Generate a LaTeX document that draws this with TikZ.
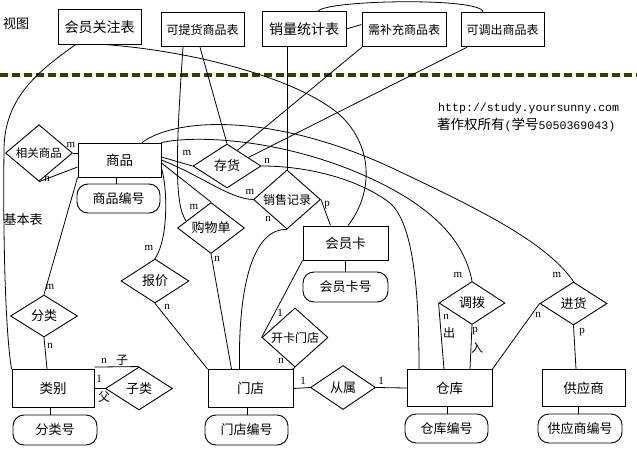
\documentclass[tikz,border=0pt]{standalone}
\usepackage{fontspec}
\newfontfamily\cjk{Noto Sans CJK SC}
\newfontfamily\mono{Liberation Mono}
\newfontfamily\lserif{Liberation Serif}
\usetikzlibrary{shapes.geometric,calc}
\definecolor{olivedash}{RGB}{60,60,0}
\tikzset{
 ent/.style={draw, line width=0.9pt, minimum width=84pt, minimum height=37pt, inner sep=0pt, font=\cjk\fontsize{13.5}{14}\selectfont},
 vbox/.style={draw, line width=0.9pt, minimum width=83pt, minimum height=34.5pt, inner sep=0pt, font=\cjk\fontsize{12}{13}\selectfont},
 attr/.style={draw, rounded corners=11pt, line width=0.9pt, minimum width=84pt, minimum height=30pt, inner sep=0pt, font=\cjk\fontsize{13}{14}\selectfont},
 rel/.style={diamond, draw, line width=0.9pt, minimum width=67pt, minimum height=43pt, inner sep=0pt, font=\cjk\fontsize{13}{14}\selectfont},
 lbl/.style={font=\lserif\fontsize{11}{11}\selectfont, inner sep=0pt},
 clbl/.style={font=\cjk\fontsize{12}{12}\selectfont, inner sep=0pt},
 conn/.style={line width=0.8pt},
 plain/.style={font=\cjk\fontsize{13}{13}\selectfont, inner sep=0pt},
}
\begin{document}
\begin{tikzpicture}[x=1pt,y=-1pt]
\useasboundingbox (0,0) rectangle (637,450);
\fill[white] (0,0) rectangle (637,450);
% separator
\draw[line width=4pt, color=olivedash, dash pattern=on 8pt off 4pt] (0,75) -- (637,75);
% texts
\node[plain] (vt) at (16,24) {视图};
\node[plain] (jbb) at (23,220) {基本表};
\node[font=\mono\fontsize{11.6}{12}\selectfont, anchor=west, inner sep=0pt] (url) at (438,108) {http://study.yoursunny.com};
\node[font=\cjk\fontsize{13.5}{14}\selectfont, anchor=west, inner sep=0pt] (cr) at (437,125) {著作权所有{\mono\fontsize{11.6}{12}\selectfont(}学号{\mono\fontsize{11.6}{12}\selectfont 5050369043)}};
% view boxes
\node[vbox, font=\cjk\fontsize{14}{14}\selectfont] (gz) at (99.5,27) {会员关注表};
\node[vbox] (ktp) at (202.5,29.5) {可提货商品表};
\node[vbox, minimum width=84pt, font=\cjk\fontsize{14}{14}\selectfont] (xl) at (304,29) {销量统计表};
\node[vbox, minimum width=84pt] (xb) at (404,29.5) {需补充商品表};
\node[vbox] (kd) at (502.5,29.5) {可调出商品表};
% entities
\node[ent, minimum width=83pt, minimum height=34pt] (sp) at (119.5,160) {商品};
\node[attr, minimum width=83pt, minimum height=29pt] (spbh) at (118.5,198.5) {商品编号};
\node[ent, minimum width=85pt, minimum height=34pt] (hyk) at (345.5,243) {会员卡};
\node[attr, minimum width=85pt] (hykh) at (345.5,287) {会员卡号};
\node[ent, minimum width=82pt, minimum height=38pt] (lb) at (53,388.5) {类别};
\node[attr] (flh) at (55,430) {分类号};
\node[ent, minimum width=85pt, minimum height=38pt] (md) at (250.5,388.5) {门店};
\node[attr, minimum width=83pt] (mdbh) at (246.5,430) {门店编号};
\node[ent, minimum width=85pt] (ck) at (449.5,388) {仓库};
\node[attr, minimum width=83pt, minimum height=29pt] (ckbh) at (446.5,428.5) {仓库编号};
\node[ent, minimum width=83pt] (gys) at (583.5,388) {供应商};
\node[attr, minimum height=29pt] (gysbh) at (580,428.5) {供应商编号};
% relations
\node[rel, minimum height=44pt, font=\cjk\fontsize{11.5}{12}\selectfont] (xg) at (39,153) {相关商品};
\node[rel, minimum width=68pt, minimum height=44pt] (ch) at (227,166) {存货};
\node[rel, minimum height=42pt, font=\cjk\fontsize{12}{12}\selectfont] (xs) at (287,199.5) {销售记录};
\node[rel, minimum height=42pt] (gwd) at (211,228) {购物单};
\node[rel, minimum width=68pt, minimum height=44pt] (bj) at (155,281) {报价};
\node[rel, minimum width=66pt, minimum height=45pt, font=\cjk\fontsize{12}{12}\selectfont] (kk) at (295,337.5) {开卡门店};
\node[rel, minimum height=42pt] (fl) at (44,316) {分类};
\node[rel] (zl) at (139,388.5) {子类};
\node[rel, minimum width=65pt, minimum height=44pt] (cs) at (343,387.5) {从属};
\node[rel, minimum width=66pt] (db) at (472,303) {调拨};
\node[rel] (jh) at (573.5,303.5) {进货};
% view connectors
\draw[conn] ([xshift=-24]gz.south) .. controls (40,70) and (4,97) .. (4,150) .. controls (3,230) and (5,330) .. (lb.north west);
\draw[conn] ([xshift=7.5]gz.south) .. controls (200,52) and (300,80) .. (340,115) .. controls (375,148) and (372,195) .. ([xshift=2.5]hyk.north);
\draw[conn] ([xshift=-19.5]ktp.south) .. controls (176,150) and (174,205) .. ($(gwd.west)!0.27!(gwd.north)$);
\draw[conn] ([xshift=-2.5]ktp.south) -- (ch.north);
\draw[conn] (xl.south -| xs.north) -- (xs.north);
\draw[conn] ([xshift=14]xl.north) .. controls (325,0) and (480,-3) .. ([xshift=-19.5]kd.north);
\draw[conn] (xl.east) -- ([yshift=5]xb.west);
\draw[conn] ([xshift=-42]xb.south) -- ($(ch.north)!0.3!(ch.east)$);
\draw[conn] ([xshift=-35.5]kd.south) -- ($(ch.north)!0.62!(ch.east)$);
% base connectors
\draw[conn] ([yshift=3]sp.east) -- (ch.west);
\draw[conn] (sp.east) .. controls (200,175) and (230,199) .. (xs.west);
\draw[conn] ([yshift=-3]sp.east) -- (gwd.north);
\draw[conn] ([yshift=-8]sp.east) .. controls (168,190) and (168,240) .. (bj.north);
\draw[conn] (sp.south west) -- (fl.north);
\draw[conn] (fl.south) -- ([xshift=-6]lb.north);
\draw[conn] (xg.east) -- ([yshift=7]sp.west);
\draw[conn] (xg.south) -- ([yshift=-7]sp.west);
\draw[conn] (ch.east) .. controls (310,166) and (360,180) .. (390,203) .. controls (415,225) and (419,300) .. ([xshift=-30.5]ck.north);
\draw[conn] ([xshift=22.5]sp.north) .. controls (175,118) and (270,112) .. (390,167) .. controls (470,205) and (545,240) .. (jh.north);
\draw[conn] (sp.north east) .. controls (200,134) and (300,140) .. (390,188) .. controls (440,215) and (465,245) .. (db.north);
\draw[conn] (xs.south) .. controls (255,228) and (238,280) .. ([xshift=-11]md.north);
\draw[conn] (xs.east) -- ([xshift=-15]hyk.north);
\draw[conn] (gwd.south) -- ([xshift=-19]md.north);
\draw[conn] (bj.south) -- (md.north west);
\draw[conn] (hyk.south west) -- (kk.west);
\draw[conn] (kk.south) -- ([xshift=-1]md.north east);
\draw[conn] (md.east) -- (cs.west);
\draw[conn] (cs.east) -- (ck.west);
\draw[conn] ([yshift=2]lb.north east) -- (zl.north);
\draw[conn] (lb.east) -- (zl.west);
\draw[conn] (db.west) -- ([xshift=-5.5]ck.north);
\draw[conn] (db.south) -- ([xshift=20.5]ck.north);
\draw[conn] (jh.west) -- (ck.north east);
\draw[conn] (jh.south) -- ([xshift=-7.5]gys.north);
% attribute links
\draw[conn] ([xshift=-3]sp.south) -- ([xshift=-3]sp.south |- spbh.north);
\draw[conn] (hyk.south) -- (hyk.south |- hykh.north);
\draw[conn] ([xshift=-3]lb.south) -- ([xshift=-3]lb.south |- flh.north);
\draw[conn] ([xshift=-3.5]md.south) -- ([xshift=-3.5]md.south |- mdbh.north);
\draw[conn] ([xshift=-2.5]ck.south) -- ([xshift=-2.5]ck.south |- ckbh.north);
\draw[conn] ([xshift=-5.5]gys.south) -- ([xshift=-5.5]gys.south |- gysbh.north);
% cardinality labels
\node[lbl] (a1) at (71,145) {m};
\node[lbl] (a2) at (47,179) {n};
\node[lbl] (b1) at (187,153) {m};
\node[lbl] (b2) at (267,161) {n};
\node[lbl] (c1) at (250,192) {m};
\node[lbl] (c2) at (268,219) {n};
\node[lbl] (c3) at (327,205) {p};
\node[lbl] (d1) at (194,207) {m};
\node[lbl] (d2) at (217,259) {n};
\node[lbl] (e1) at (149,248) {m};
\node[lbl] (e2) at (167,307) {n};
\node[lbl] (f1) at (50,287) {m};
\node[lbl] (f2) at (50,346) {n};
\node[lbl] (g1) at (104,361) {n};
\node[clbl] (g2) at (122,360) {子};
\node[lbl] (g3) at (99,379) {1};
\node[clbl] (g4) at (104,397) {父};
\node[lbl] (h1) at (280,313) {1};
\node[lbl] (h2) at (281,361) {n};
\node[lbl] (i1) at (303,381) {1};
\node[lbl] (i2) at (381,381) {1};
\node[lbl] (j1) at (458,275) {m};
\node[lbl] (j2) at (446,317) {n};
\node[clbl] (j3) at (449,333) {出};
\node[lbl] (j4) at (475,331) {p};
\node[clbl] (j5) at (477,348) {入};
\node[lbl] (k1) at (557,275) {m};
\node[lbl] (k2) at (538,315) {n};
\node[lbl] (k3) at (582,332) {p};
\end{tikzpicture}
\end{document}
